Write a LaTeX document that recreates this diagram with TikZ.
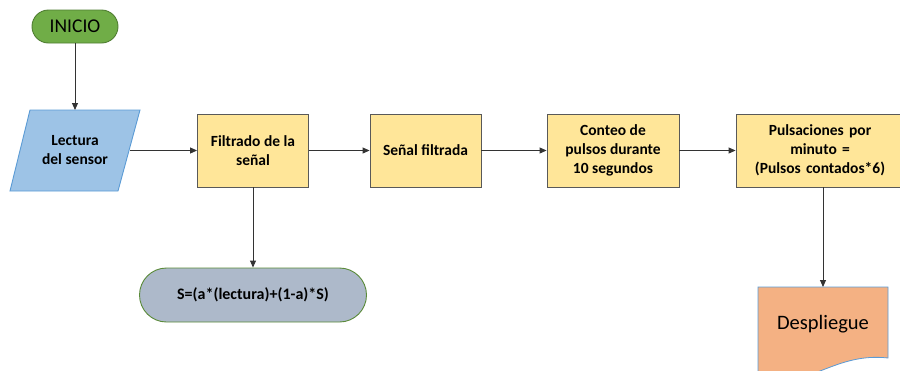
\documentclass[tikz,border=0pt]{standalone}
\usepackage{fontspec}
\setmainfont{Carlito}
\usetikzlibrary{arrows.meta}
\definecolor{ygfill}{HTML}{FFE699}
\definecolor{ygdraw}{HTML}{595959}
\definecolor{gfill}{HTML}{70AD47}
\definecolor{gdraw}{HTML}{507E32}
\definecolor{bfill}{HTML}{9DC3E6}
\definecolor{bdraw}{HTML}{5B9BD5}
\definecolor{sfill}{HTML}{ADB9CA}
\definecolor{ofill}{HTML}{F4B183}
\begin{document}
\begin{tikzpicture}[x=1pt,y=-1pt,
  procbox/.style={draw=ygdraw,fill=ygfill,line width=0.9pt,minimum height=73pt,align=center,
    font=\fontsize{15.5}{19}\selectfont\bfseries,inner sep=2pt},
  conn/.style={draw=black!80,line width=0.9pt,-{Triangle[length=7pt,width=6pt]}},
  ghost/.style={draw=none,align=center,inner sep=0pt}]
\useasboundingbox (0,0) rectangle (900,370);
\clip (0,0) rectangle (900,370);
% INICIO
\node[draw=gdraw,fill=gfill,line width=0.9pt,rounded corners=16.5pt,minimum width=86pt,minimum height=33pt,
  font=\fontsize{19.5}{21}\selectfont] (ini) at (75,26.5) {INICIO};
% Lectura parallelogram
\node[ghost,minimum width=110pt,minimum height=81pt] (lect) at (75,150.5) {};
\draw[draw=bdraw,fill=bfill,line width=0.9pt] (30,110) -- (140,110) -- (118,191) -- (10,191) -- cycle;
\node[ghost,font=\fontsize{15.5}{19}\selectfont\bfseries] at (lect) {Lectura\\del sensor};
% process boxes
\node[procbox,minimum width=111pt] (filt) at (253,150.5) {Filtrado de la\\señal};
\node[procbox,minimum width=111pt] (senal) at (425.5,150.5) {Señal filtrada};
\node[procbox,minimum width=132pt] (cont) at (613,150.5) {Conteo de\\pulsos durante\\10 segundos};
\node[procbox,minimum width=168pt,text width=160pt] (puls) at (820,150.5) {Pulsaciones por\\minuto =\\(Pulsos contados*6)};
% S formula
\node[draw=gfill!80!black,fill=sfill,line width=0.9pt,rounded corners=27pt,minimum width=227pt,minimum height=54pt,
  font=\fontsize{16}{18}\selectfont\bfseries] (sform) at (253,295) {S=(a*(lectura)+(1-a)*S)};
% Despliegue document shape
\draw[draw=bdraw,fill=ofill,line width=0.8pt] (758,287) -- (888,287) -- (888,358)
  .. controls (835,352) and (810,388) .. (758,382) -- cycle;
\node[ghost,minimum width=130pt,minimum height=1pt,font=\fontsize{20.5}{22}\selectfont] (desp) at (823,324) {Despliegue};
\coordinate (despTop) at (823,287);
% connectors
\draw[conn] (ini.south) -- (ini.south |- 0,110);
\draw[conn] (lect.east) -- (filt.west);
\draw[conn] (filt.east) -- (senal.west);
\draw[conn] (senal.east) -- (cont.west);
\draw[conn] (cont.east) -- (puls.west);
\draw[conn] (filt.south) -- (sform.north);
\draw[conn] (puls.south -| despTop) -- (despTop);
\end{tikzpicture}
\end{document}
